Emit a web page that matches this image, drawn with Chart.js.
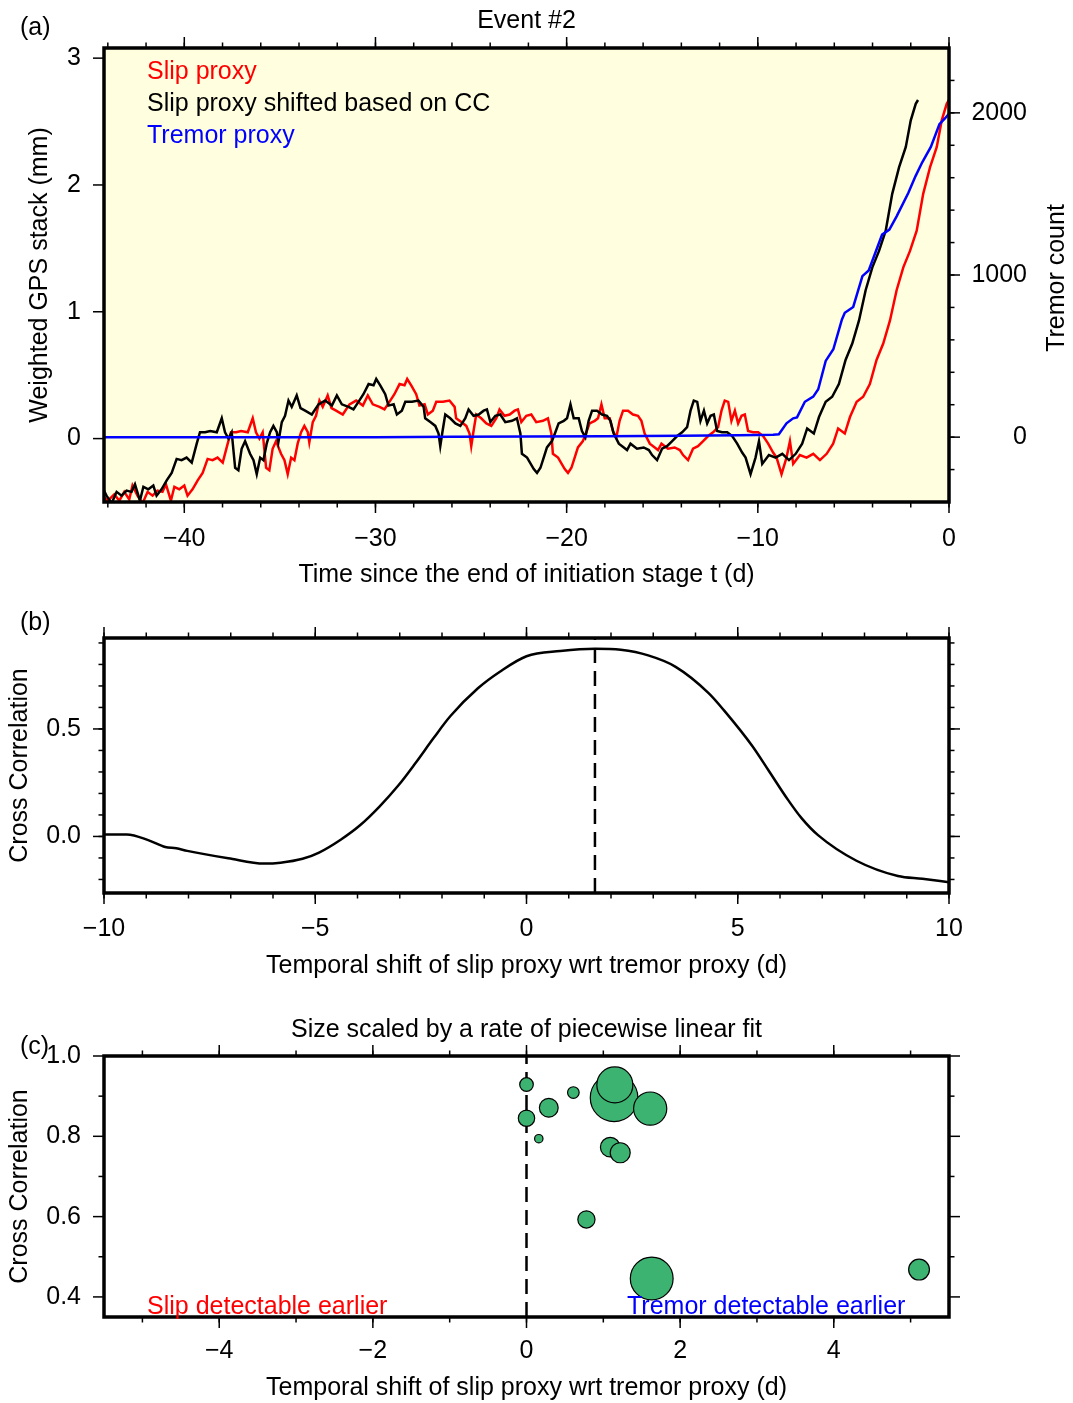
<!DOCTYPE html>
<html>
<head>
<meta charset="utf-8">
<script src="https://cdn.jsdelivr.net/npm/chart.js@4.4.1/dist/chart.umd.min.js"></script>
<style>
  body { margin: 0; background: #fff; width: 1073px; height: 1403px; position: relative; overflow: hidden; }
  canvas { position: absolute; left: 0; }
</style>
</head>
<body>
<canvas id="cA" width="1073" height="600" style="top:0px"></canvas>
<canvas id="cB" width="1073" height="400" style="top:600px"></canvas>
<canvas id="cC" width="1073" height="403" style="top:1000px"></canvas>
<script>
// ---- (a) slip proxy: [time since end of initiation (d), weighted GPS stack (mm)]
const slipProxy = [
  [-44.3,-0.45],[-44.0,-0.49],[-43.66,-0.44],[-43.4,-0.49],[-43.14,-0.42],[-42.88,-0.48],[-42.71,-0.37],
  [-42.45,-0.45],[-42.18,-0.51],[-41.92,-0.42],[-41.66,-0.45],[-41.4,-0.41],[-41.14,-0.42],[-40.96,-0.36],
  [-40.7,-0.49],[-40.52,-0.38],[-40.26,-0.40],[-40.0,-0.37],[-39.83,-0.45],[-39.57,-0.40],[-39.3,-0.33],
  [-39.04,-0.27],[-38.78,-0.16],[-38.52,-0.17],[-38.26,-0.15],[-37.99,-0.19],[-37.73,-0.04],[-37.56,0.05],
  [-37.29,0.05],[-37.03,0.06],[-36.68,0.05],[-36.42,0.16],[-36.25,0.05],[-36.07,0.0],[-35.9,0.05],
  [-35.72,-0.23],[-35.55,-0.25],[-35.38,-0.08],[-35.2,-0.02],[-34.94,-0.12],[-34.76,-0.17],[-34.59,-0.28],
  [-34.41,-0.15],[-34.24,-0.17],[-34.07,-0.04],[-33.89,0.05],[-33.72,0.10],[-33.54,0.05],[-33.46,-0.03],
  [-33.28,0.13],[-33.11,0.18],[-32.93,0.30],[-32.76,0.25],[-32.5,0.34],[-32.3,0.24],[-32.06,0.22],
  [-31.71,0.19],[-31.36,0.27],[-31.01,0.30],[-30.66,0.26],[-30.4,0.34],[-30.14,0.27],[-29.79,0.25],
  [-29.53,0.23],[-29.27,0.29],[-29.01,0.35],[-28.74,0.43],[-28.48,0.42],[-28.34,0.47],[-28.13,0.42],
  [-27.87,0.35],[-27.7,0.26],[-27.43,0.27],[-27.26,0.19],[-27.0,0.22],[-26.82,0.29],[-26.47,0.29],
  [-26.13,0.30],[-25.86,0.25],[-25.78,0.16],[-25.51,0.13],[-25.25,0.10],[-25.08,0.04],[-24.99,-0.06],
  [-24.87,0.06],[-24.73,0.19],[-24.47,0.16],[-24.2,0.12],[-23.94,0.10],[-23.68,0.16],[-23.51,0.23],
  [-23.25,0.18],[-22.98,0.19],[-22.72,0.22],[-22.55,0.23],[-22.37,0.13],[-22.11,0.18],[-21.85,0.19],
  [-21.59,0.13],[-21.24,0.14],[-20.98,0.16],[-20.8,0.04],[-20.72,-0.12],[-20.45,-0.15],[-20.1,-0.24],
  [-19.93,-0.27],[-19.75,-0.23],[-19.58,-0.15],[-19.41,-0.07],[-19.15,-0.02],[-18.97,0.05],[-18.8,0.12],
  [-18.53,0.14],[-18.36,0.16],[-18.18,0.27],[-18.01,0.16],[-17.75,0.16],[-17.58,0.06],[-17.4,0.01],
  [-17.23,0.14],[-17.05,0.22],[-16.79,0.22],[-16.53,0.19],[-16.27,0.18],[-16.09,0.14],[-15.92,0.04],
  [-15.65,-0.04],[-15.39,-0.07],[-15.22,-0.09],[-15.04,-0.04],[-14.7,-0.08],[-14.35,-0.07],[-14.08,-0.09],
  [-13.91,-0.13],[-13.65,-0.17],[-13.39,-0.08],[-13.13,-0.06],[-12.86,-0.02],[-12.6,0.02],[-12.34,0.05],
  [-12.08,0.09],[-11.9,0.22],[-11.73,0.30],[-11.55,0.29],[-11.38,0.14],[-11.2,0.22],[-11.03,0.12],
  [-10.85,0.18],[-10.68,0.19],[-10.51,0.06],[-10.25,0.05],[-9.98,0.05],[-9.72,0.02],[-9.46,-0.04],
  [-9.2,-0.11],[-9.02,-0.15],[-8.76,-0.28],[-8.5,-0.15],[-8.32,-0.02],[-8.15,-0.20],[-7.8,-0.13],
  [-7.45,-0.15],[-7.1,-0.12],[-6.75,-0.17],[-6.4,-0.12],[-6.06,-0.04],[-5.8,0.08],[-5.45,0.04],
  [-5.18,0.17],[-4.83,0.29],[-4.49,0.33],[-4.14,0.43],[-3.79,0.62],[-3.44,0.75],[-3.09,0.93],
  [-2.74,1.17],[-2.39,1.35],[-2.04,1.48],[-1.69,1.64],[-1.35,1.93],[-0.99,2.14],[-0.64,2.30],
  [-0.38,2.51],[-0.12,2.64],[0,2.67]
];
// shift (d) of the slip proxy that maximises CC, used for the black curve and panel (b) line
const ccShift = 1.62;

// (a) tremor proxy: [time (d), cumulative tremor count]
const tremorProxy = [
  [-44.3,0],[-30,0],[-26,2],[-22,4],[-18,6],[-14,9],[-11,12],[-9.2,15],[-8.9,18],[-8.5,85],
  [-8.15,116],[-7.95,122],[-7.54,218],[-7.1,250],[-6.84,295],[-6.45,470],[-6.05,542],[-5.6,726],
  [-5.45,767],[-5.01,803],[-4.53,993],[-4.2,1028],[-3.79,1157],[-3.5,1249],[-3.12,1280],[-2.74,1362],
  [-2.13,1506],[-1.75,1610],[-1.4,1695],[-0.95,1790],[-0.5,1930],[-0.2,1967],[0,1995]
];

// (b) cross correlation vs temporal shift (d)
const shiftDays = [-10,-9.46,-8.94,-8.55,-8.29,-8.03,-7.06,-6.21,-5.82,-5.3,-4.91,-4.39,-3.94,-3.48,-3.03,
  -2.64,-2.19,-1.8,-1.15,-0.63,0,0.8,1.62,2.23,2.88,3.53,4.31,4.69,5.34,5.73,6.19,6.51,6.9,7.81,8.79,9.37,10];
const crossCorr = [0.009,0.009,-0.018,-0.049,-0.055,-0.067,-0.101,-0.126,-0.122,-0.104,-0.075,-0.014,0.052,
  0.139,0.238,0.338,0.46,0.56,0.689,0.766,0.838,0.862,0.873,0.868,0.842,0.789,0.667,0.583,0.422,0.307,0.17,
  0.085,0.006,-0.113,-0.184,-0.197,-0.213];

// (c) events: best shift (d), max CC, rate of piecewise linear fit
const eventShift = [0.0, 0.61, 0.29, 0.0, 0.16, 1.14, 1.15, 1.61, 1.09, 1.22, 0.78, 1.63, 5.11];
const eventCC    = [0.929, 0.909, 0.871, 0.845, 0.794, 0.896, 0.928, 0.869, 0.773, 0.759, 0.593, 0.446, 0.468];
const fitRate    = [0.34, 0.29, 0.47, 0.41, 0.21, 1.19, 0.90, 0.83, 0.49, 0.50, 0.43, 1.07, 0.52];

// tick labels
const aTimeTicks = [-40, -30, -20, -10, 0];
const aGpsTicks = [0, 1, 2, 3];
const aTremorTicks = [0, 1000, 2000];
const bShiftTicks = [-10, -5, 0, 5, 10];
const bCcTicks = [0.0, 0.5];
const cShiftTicks = [-4, -2, 0, 2, 4];
const cCcTicks = [0.4, 0.6, 0.8, 1.0];

const FONT = '"Liberation Sans", Arial, Helvetica, sans-serif';
Chart.defaults.font.family = FONT;
Chart.defaults.font.size = 25;
Chart.defaults.color = '#000';

function steps(from, to, step) {
  const out = [];
  for (let v = from; v <= to + 1e-9; v += step) out.push(+v.toFixed(6));
  return out;
}
const fmt = d => v => (v < -1e-9 ? '\u2212' : '') + Math.abs(v).toFixed(d);
const fixTicks = vals => s => { s.ticks = vals.map(v => ({ value: v })); };

// GMT-like frame, outward ticks on all sides, free texts
const frameTicks = {
  id: 'frameTicks',
  beforeDatasetsDraw(chart, args, o) {
    if (!o.fill) return;
    const { ctx, chartArea: a } = chart;
    ctx.save();
    ctx.fillStyle = o.fill;
    ctx.fillRect(a.left, a.top, a.width, a.height);
    ctx.restore();
  },
  afterDraw(chart, args, o) {
    const { ctx, chartArea: a, scales } = chart;
    const seg = (x1, y1, x2, y2) => { ctx.beginPath(); ctx.moveTo(x1, y1); ctx.lineTo(x2, y2); ctx.stroke(); };
    ctx.save();
    ctx.strokeStyle = '#000';
    ctx.lineWidth = 1.5;
    (o.xTicks || []).forEach(t => {
      t.vals.forEach(v => {
        const x = scales.x.getPixelForValue(v);
        seg(x, a.bottom, x, a.bottom + t.len);
        seg(x, a.top, x, a.top - t.len);
      });
    });
    (o.yTicks || []).forEach(t => {
      const s = scales[t.scale];
      t.vals.forEach(v => {
        const y = s.getPixelForValue(v);
        if (t.left) seg(a.left - t.len, y, a.left, y);
        if (t.right) seg(a.right, y, a.right + t.len, y);
      });
    });
    ctx.lineWidth = 3.5;
    ctx.strokeRect(a.left, a.top, a.width, a.height);
    (o.texts || []).forEach(t => {
      ctx.save();
      ctx.font = '25px ' + FONT;
      ctx.fillStyle = t.color || '#000';
      ctx.textAlign = t.align || 'left';
      ctx.textBaseline = 'middle';
      ctx.translate(t.x, t.y);
      if (t.rot) ctx.rotate(t.rot);
      ctx.fillText(t.text, 0, 0);
      ctx.restore();
    });
    ctx.restore();
  }
};

const hidden = { display: false, drawTicks: false };
const noBorder = { display: false };
const lineDs = (label, data, color, extra) => Object.assign({
  label, data, borderColor: color, backgroundColor: color, borderWidth: 2.5,
  pointRadius: 0, tension: 0, fill: false
}, extra || {});

// ---------------- panel (a)
new Chart(document.getElementById('cA'), {
  type: 'line',
  data: {
    datasets: [
      lineDs('Tremor proxy', tremorProxy.map(([t, n]) => ({ x: t, y: n })), '#0000ff', { yAxisID: 'y2' }),
      lineDs('Slip proxy shifted based on CC', slipProxy.map(([t, v]) => ({ x: t - ccShift, y: v })), '#000000'),
      lineDs('Slip proxy', slipProxy.map(([t, v]) => ({ x: t, y: v })), '#ff0000')
    ]
  },
  options: {
    responsive: false, animation: false, events: [],
    layout: { padding: { top: 0, left: 0, bottom: 0, right: 46 } },
    plugins: {
      legend: { display: false }, tooltip: { enabled: false },
      title: { display: true, fullSize: false, text: 'Event #2', color: '#000', font: { size: 25, weight: 'normal' }, padding: { top: 6, bottom: 12 } },
      frameTicks: {
        fill: 'rgb(255,255,224)',
        xTicks: [{ vals: aTimeTicks, len: 11 }, { vals: steps(-44, 0, 2), len: 5.5 }],
        yTicks: [
          { scale: 'y', vals: aGpsTicks, len: 11, left: true },
          { scale: 'y2', vals: aTremorTicks, len: 11, right: true },
          { scale: 'y2', vals: steps(-200, 2200, 200), len: 5.5, right: true }
        ],
        texts: [
          { text: '(a)', x: 20, y: 28 },
          { text: 'Slip proxy', x: 147, y: 72, color: '#ff0000' },
          { text: 'Slip proxy shifted based on CC', x: 147, y: 104 },
          { text: 'Tremor proxy', x: 147, y: 136, color: '#0000ff' },
          { text: 'Tremor count', x: 1057, y: 278, align: 'center', rot: -Math.PI / 2 }
        ]
      }
    },
    scales: {
      x: {
        type: 'linear', min: -44.2, max: 0,
        afterBuildTicks: fixTicks(aTimeTicks), afterFit: s => { s.height = 98; },
        grid: hidden, border: noBorder,
        ticks: { padding: 22, maxRotation: 0, autoSkip: false, callback: fmt(0) },
        title: { display: true, text: 'Time since the end of initiation stage t (d)', padding: { top: 0, bottom: 10 } }
      },
      y: {
        position: 'left', min: -0.5, max: 3.08,
        afterBuildTicks: fixTicks(aGpsTicks), afterFit: s => { s.width = 104; },
        grid: hidden, border: noBorder,
        ticks: { padding: 23, autoSkip: false, callback: fmt(0) },
        title: { display: true, text: 'Weighted GPS stack (mm)', padding: { top: 25, bottom: 0 } }
      },
      y2: {
        position: 'right', min: -400, max: 2400,
        afterBuildTicks: fixTicks(aTremorTicks), afterFit: s => { s.width = 78; },
        grid: hidden, border: noBorder,
        ticks: { padding: 22, crossAlign: 'far', autoSkip: false, callback: fmt(0) }
      }
    }
  },
  plugins: [frameTicks]
});

// ---------------- panel (b)
const bMin = -0.263, bMax = 0.923;
new Chart(document.getElementById('cB'), {
  type: 'line',
  data: {
    datasets: [
      lineDs('Cross correlation', shiftDays.map((s, i) => ({ x: s, y: crossCorr[i] })), '#000000', { cubicInterpolationMode: 'monotone' }),
      lineDs('Best shift', [{ x: ccShift, y: bMin }, { x: ccShift, y: bMax }], '#000000', { borderDash: [15, 8] })
    ]
  },
  options: {
    responsive: false, animation: false, events: [],
    layout: { padding: { top: 34, right: 124, left: 0, bottom: 0 } },
    plugins: {
      legend: { display: false }, tooltip: { enabled: false },
      frameTicks: {
        xTicks: [{ vals: bShiftTicks, len: 11 }, { vals: steps(-10, 10, 1), len: 5.5 }],
        yTicks: [
          { scale: 'y', vals: bCcTicks, len: 11, left: true, right: true },
          { scale: 'y', vals: steps(-0.2, 0.9, 0.1), len: 5.5, left: true, right: true }
        ],
        texts: [{ text: '(b)', x: 20, y: 23 }]
      }
    },
    scales: {
      x: {
        type: 'linear', min: -10, max: 10,
        afterBuildTicks: fixTicks(bShiftTicks), afterFit: s => { s.height = 107; },
        grid: hidden, border: noBorder,
        ticks: { padding: 21, maxRotation: 0, autoSkip: false, callback: fmt(0) },
        title: { display: true, text: 'Temporal shift of slip proxy wrt tremor proxy (d)', padding: { top: 0, bottom: 19 } }
      },
      y: {
        position: 'left', min: bMin, max: bMax,
        afterBuildTicks: fixTicks(bCcTicks), afterFit: s => { s.width = 104; },
        grid: hidden, border: noBorder,
        ticks: { padding: 23, autoSkip: false, callback: fmt(1) },
        title: { display: true, text: 'Cross Correlation', padding: { top: 5, bottom: 0 } }
      }
    }
  },
  plugins: [frameTicks]
});

// ---------------- panel (c)
const rateToRadius = 20;
new Chart(document.getElementById('cC'), {
  type: 'bubble',
  data: {
    datasets: [
      {
        label: 'Events',
        data: eventShift.map((s, i) => ({ x: s, y: eventCC[i], r: fitRate[i] * rateToRadius })),
        backgroundColor: 'rgb(60,179,113)', borderColor: '#000', borderWidth: 1.2
      },
      Object.assign(lineDs('Zero shift', [{ x: 0, y: 0.35 }, { x: 0, y: 1.0 }], '#000000', { borderDash: [15, 8] }), { type: 'line' })
    ]
  },
  options: {
    responsive: false, animation: false, events: [],
    layout: { padding: { top: 0, right: 124, left: 0, bottom: 0 } },
    plugins: {
      legend: { display: false }, tooltip: { enabled: false },
      title: { display: true, fullSize: false, text: 'Size scaled by a rate of piecewise linear fit', color: '#000', font: { size: 25, weight: 'normal' }, padding: { top: 15, bottom: 11 } },
      frameTicks: {
        xTicks: [{ vals: cShiftTicks, len: 11 }, { vals: steps(-5, 5, 1), len: 5.5 }],
        yTicks: [
          { scale: 'y', vals: cCcTicks, len: 11, left: true, right: true },
          { scale: 'y', vals: [0.5, 0.7, 0.9], len: 5.5, left: true, right: true }
        ],
        texts: [
          { text: '(c)', x: 20, y: 47 },
          { text: 'Slip detectable earlier', x: 147, y: 307, color: '#ff0000' },
          { text: 'Tremor detectable earlier', x: 627, y: 307, color: '#0000ff' }
        ]
      }
    },
    scales: {
      x: {
        type: 'linear', min: -5.5, max: 5.5,
        afterBuildTicks: fixTicks(cShiftTicks), afterFit: s => { s.height = 86; },
        grid: hidden, border: noBorder,
        ticks: { padding: 19, maxRotation: 0, autoSkip: false, callback: fmt(0) },
        title: { display: true, text: 'Temporal shift of slip proxy wrt tremor proxy (d)', padding: { top: 0, bottom: 0 } }
      },
      y: {
        position: 'left', min: 0.35, max: 1.0,
        afterBuildTicks: fixTicks(cCcTicks), afterFit: s => { s.width = 104; },
        grid: hidden, border: noBorder,
        ticks: { padding: 23, autoSkip: false, callback: fmt(1) },
        title: { display: true, text: 'Cross Correlation', padding: { top: 5, bottom: 0 } }
      }
    }
  },
  plugins: [frameTicks]
});
</script>
</body>
</html>
